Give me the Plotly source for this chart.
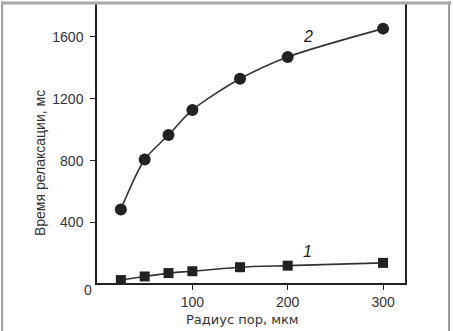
import plotly.graph_objects as go

radius = [25, 50, 75, 100, 150, 200, 300]
series2 = [485, 807, 965, 1127, 1328, 1469, 1652]
series1 = [29, 52, 74, 86, 112, 122, 140]
y_ticks = [400, 800, 1200, 1600]
x_ticks = [100, 200, 300]
x_title = "Радиус пор, мкм"
y_title = "Время релаксации, мс"
labels = [("2", 221, 1600), ("1", 221, 215)]

font = "Liberation Sans, Arial, sans-serif"
ink = "#222222"
txt_col = "#333333"

fig = go.Figure()
fig.add_trace(go.Scatter(x=radius, y=series2, mode="lines+markers",
                         line=dict(color="#333333", width=1.6, shape="spline", smoothing=0.8),
                         marker=dict(symbol="circle", size=12, color=ink)))
fig.add_trace(go.Scatter(x=radius, y=series1, mode="lines+markers",
                         line=dict(color="#333333", width=1.6, shape="spline", smoothing=0.8),
                         marker=dict(symbol="square", size=10, color=ink)))

for txt, lx, ly in labels:
    fig.add_annotation(x=lx, y=ly, text=f"<i>{txt}</i>", showarrow=False,
                       font=dict(family=font, size=16, color=ink))

fig.add_annotation(xref="paper", yref="paper", x=-0.05, y=-0.06, text="0",
                   showarrow=False, font=dict(family=font, size=14, color=txt_col))

# axis titles as annotations for exact placement
fig.add_annotation(xref="paper", yref="paper", x=-0.185, y=0.43, text=y_title,
                   textangle=-90, showarrow=False, xanchor="center", yanchor="middle",
                   font=dict(family=font, size=14, color=txt_col))
fig.add_annotation(xref="paper", yref="paper", x=0.471, y=-0.132, text=x_title,
                   showarrow=False, xanchor="center", yanchor="middle",
                   font=dict(family="DejaVu Sans, sans-serif", size=13, color=txt_col))

# outer gray frame
frame = dict(type="line", xref="paper", yref="paper", line=dict(color="#9a9a9a", width=2))
fig.add_shape(**frame, x0=-0.308, x1=-0.308, y0=1.01, y1=-0.2)
fig.add_shape(**frame, x0=1.143, x1=1.143, y0=1.01, y1=-0.2)
fig.add_shape(type="line", xref="paper", yref="paper", line=dict(color="#a8a8a8", width=3),
              x0=-0.31, x1=1.15, y0=1.004, y1=1.004)

fig.update_layout(
    width=453, height=331,
    margin=dict(l=97, r=48, t=2, b=48),
    paper_bgcolor="white", plot_bgcolor="white",
    showlegend=False,
    font=dict(family=font, size=14, color=txt_col),
    xaxis=dict(range=[0, 323], tickvals=x_ticks, ticks="outside", ticklen=5,
               tickcolor=ink, showline=True, linecolor=ink, linewidth=1.5, mirror=True,
               showgrid=False, zeroline=False, tickfont=dict(size=14)),
    yaxis=dict(range=[10, 1811], tickvals=y_ticks, ticks="outside", ticklen=5,
               tickcolor=ink, showline=True, linecolor=ink, linewidth=1.5, mirror=True,
               showgrid=False, zeroline=False, ticklabelstandoff=4, tickfont=dict(size=14)),
)

fig.write_html("out.html")
